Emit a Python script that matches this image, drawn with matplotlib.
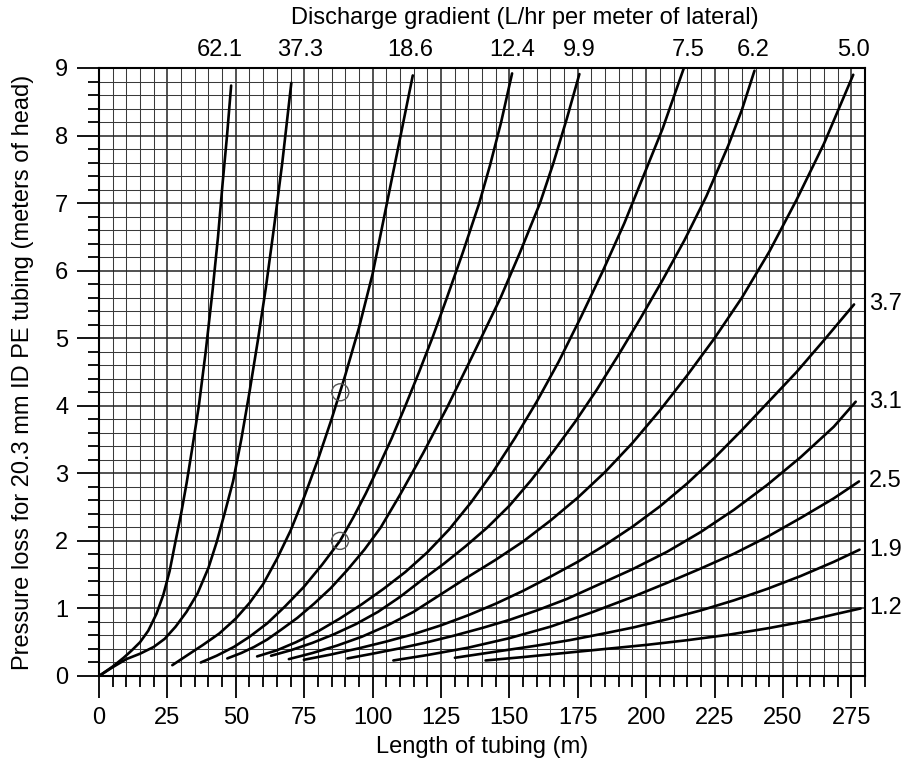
import matplotlib
matplotlib.use("Agg")
import matplotlib.pyplot as plt
import numpy as np

plt.rcParams['font.family'] = ['Liberation Sans', 'DejaVu Sans']

# Length of tubing (m) and pressure loss (m of head) for each discharge gradient
q62_1_x = [0, 5, 9, 12, 15, 18, 21, 23.5, 25.8, 28, 30, 32, 34, 36.5, 39, 41.5, 43.5, 45.2, 46.8, 48.3]
q62_1_y = [0, 0.14, 0.27, 0.38, 0.5, 0.67, 0.92, 1.2, 1.55, 2.0, 2.4, 2.85, 3.35, 4.0, 4.8, 5.7, 6.5, 7.3, 8.0, 8.74]
q37_3_x = [0, 5, 10, 15, 20, 24, 28, 32, 36, 40, 43, 46, 49, 52, 55, 58, 61, 64, 67, 70.3]
q37_3_y = [0, 0.13, 0.25, 0.33, 0.43, 0.55, 0.73, 0.95, 1.22, 1.6, 1.98, 2.42, 2.88, 3.5, 4.2, 4.95, 5.75, 6.65, 7.6, 8.78]
q18_6_x = [26.8, 32, 38, 44, 50, 55, 60, 65, 70, 75, 80, 85, 90, 95, 100, 105, 110, 114.7]
q18_6_y = [0.16, 0.3, 0.46, 0.63, 0.85, 1.08, 1.36, 1.73, 2.15, 2.65, 3.2, 3.8, 4.45, 5.15, 5.95, 6.95, 7.95, 8.89]
q12_4_x = [37.2, 43, 49.3, 55, 61.5, 68, 74.9, 81.6, 88.1, 93, 97.5, 102, 107, 112, 117, 122, 127, 133, 139, 143, 147, 151]
q12_4_y = [0.20, 0.3, 0.43, 0.58, 0.78, 1.03, 1.32, 1.65, 2.0, 2.35, 2.7, 3.08, 3.52, 4.0, 4.5, 5.02, 5.58, 6.27, 7.0, 7.57, 8.2, 8.92]
q9_9_x = [46.9, 52, 56.7, 61.5, 66.4, 72.5, 78.6, 84.7, 90.8, 97, 103, 110, 118.5, 127.3, 137, 146.8, 154, 161.2, 166, 171, 175.6]
q9_9_y = [0.26, 0.34, 0.43, 0.54, 0.68, 0.86, 1.07, 1.3, 1.57, 1.87, 2.2, 2.68, 3.3, 3.98, 4.78, 5.6, 6.28, 7.0, 7.58, 8.25, 8.91]
q7_5_x = [57.8, 65, 72, 80, 88, 96, 104, 112, 120, 128, 136, 144, 152, 160, 168, 176, 184, 192, 199, 206, 213.8]
q7_5_y = [0.29, 0.38, 0.5, 0.66, 0.85, 1.06, 1.29, 1.54, 1.83, 2.17, 2.57, 3.02, 3.52, 4.06, 4.65, 5.3, 5.98, 6.7, 7.4, 8.1, 9.0]
q6_2_x = [62.9, 70, 78, 86, 94, 102, 110, 118, 126, 134, 142, 150, 158, 166, 174, 182, 190, 198, 206, 214, 222, 230, 235, 239.6]
q6_2_y = [0.30, 0.38, 0.49, 0.62, 0.77, 0.95, 1.17, 1.42, 1.66, 1.92, 2.2, 2.52, 2.9, 3.32, 3.76, 4.24, 4.76, 5.3, 5.86, 6.45, 7.1, 7.85, 8.38, 8.96]
q5_0_x = [69.4, 78, 87, 96, 105, 115, 125, 135, 145, 155, 165, 175, 185, 195, 205, 215, 225, 235, 245, 255, 265, 275.7]
q5_0_y = [0.25, 0.34, 0.45, 0.58, 0.74, 0.95, 1.21, 1.47, 1.72, 1.99, 2.3, 2.64, 3.02, 3.45, 3.93, 4.45, 5.0, 5.6, 6.28, 7.05, 7.88, 8.9]
q3_7_x = [74.9, 85, 95, 105, 115, 125, 135, 145, 155, 165, 175, 185, 195, 205, 215, 225, 235, 245, 255, 265, 276]
q3_7_y = [0.24, 0.32, 0.41, 0.51, 0.62, 0.75, 0.9, 1.07, 1.26, 1.47, 1.69, 1.94, 2.21, 2.51, 2.85, 3.23, 3.64, 4.07, 4.5, 4.97, 5.5]
q3_1_x = [90.8, 100, 110, 120, 130, 140, 150, 160, 171, 183, 195, 207.7, 219.9, 232.1, 244.3, 256.5, 268.6, 276.6]
q3_1_y = [0.26, 0.33, 0.41, 0.5, 0.6, 0.71, 0.83, 0.97, 1.14, 1.36, 1.58, 1.84, 2.13, 2.46, 2.83, 3.24, 3.69, 4.06]
q2_5_x = [107.6, 120, 135, 150, 165, 180, 195, 207.7, 219.9, 232.1, 244.3, 256.5, 268.6, 277.8]
q2_5_y = [0.23, 0.31, 0.42, 0.56, 0.73, 0.94, 1.17, 1.38, 1.59, 1.81, 2.06, 2.34, 2.63, 2.88]
q1_9_x = [130.1, 145, 160, 172, 183.4, 195.5, 207.7, 219.9, 232.1, 244.3, 256.5, 268.6, 278]
q1_9_y = [0.27, 0.36, 0.45, 0.53, 0.62, 0.72, 0.84, 0.97, 1.12, 1.29, 1.48, 1.69, 1.87]
q1_2_x = [141.3, 155, 170, 185, 200, 215, 230, 245, 258, 268.6, 278.4]
q1_2_y = [0.23, 0.28, 0.34, 0.4, 0.46, 0.53, 0.61, 0.71, 0.81, 0.91, 1.0]

top_labels = ["62.1", "37.3", "18.6", "12.4", "9.9", "7.5", "6.2", "5.0"]
side_labels = ["3.7", "3.1", "2.5", "1.9", "1.2"]

top_curves = [(q62_1_x, q62_1_y), (q37_3_x, q37_3_y), (q18_6_x, q18_6_y),
              (q12_4_x, q12_4_y), (q9_9_x, q9_9_y), (q7_5_x, q7_5_y),
              (q6_2_x, q6_2_y), (q5_0_x, q5_0_y)]
side_curves = [(q3_7_x, q3_7_y), (q3_1_x, q3_1_y), (q2_5_x, q2_5_y),
               (q1_9_x, q1_9_y), (q1_2_x, q1_2_y)]

# horizontal nudges (points) that keep the crowded top labels apart
top_label_nudge = [-8, 6, -2, 0, 0, 3, -1, 0]

# Worked-example points marked on the 18.6 and 12.4 curves
marker_x = [88.2, 88.1]
marker_y = [4.2, 2.0]

x_ticks = list(range(0, 276, 25))
y_ticks = list(range(0, 10))

fig = plt.figure(figsize=(9.05, 7.66), dpi=100)
ax = fig.add_axes([99 / 905, 1 - 676 / 766, 766 / 905, 608 / 766])
ax.set_xlim(0, 280)
ax.set_ylim(0, 9)

# graph-paper grid
for gx in np.arange(5, 280, 5):
    major = (gx % 25 == 0)
    ax.axvline(gx, color='#222222' if major else '#3a3a3a',
               lw=1.1 if major else 0.75, zorder=1)
for gy in np.arange(0.2, 9.0, 0.2):
    major = abs(gy - round(gy)) < 1e-6
    ax.axhline(gy, color='#222222' if major else '#3a3a3a',
               lw=1.1 if major else 0.75, zorder=1)

for (xs, ys) in top_curves + side_curves:
    ax.plot(xs, ys, color='black', lw=1.9, zorder=3,
            solid_capstyle='round', solid_joinstyle='round')

ax.scatter(marker_x, marker_y, s=150, facecolors='none', edgecolors='#555555',
           linewidths=1.0, zorder=4)

for lab, nudge, (xs, ys) in zip(top_labels, top_label_nudge, top_curves):
    ax.annotate(lab, xy=(xs[-1], 9), xytext=(nudge, 5), textcoords='offset points',
                ha='center', va='bottom', fontsize=17, annotation_clip=False)
for lab, (xs, ys) in zip(side_labels, side_curves):
    ax.annotate(lab, xy=(280, ys[-1]), xytext=(3, 0), textcoords='offset points',
                ha='left', va='center', fontsize=17, annotation_clip=False)

ax.set_xticks(x_ticks)
ax.set_xticks(np.arange(0, 281, 5), minor=True)
ax.set_yticks(y_ticks)
ax.set_yticks(np.arange(0, 9.01, 0.2), minor=True)
ax.tick_params(axis='both', which='major', direction='out', length=16, width=1.3,
               labelsize=17, pad=6)
ax.tick_params(axis='both', which='minor', direction='out', length=8, width=1.3)
for s in ax.spines.values():
    s.set_linewidth(1.5)

ax.set_xlabel("Length of tubing (m)", fontsize=17, labelpad=5)
ax.set_ylabel("Pressure loss for 20.3 mm ID PE tubing (meters of head)", fontsize=17,
              labelpad=15)
fig.text(525 / 905, 1 - 18 / 766, "Discharge gradient (L/hr per meter of lateral)",
         ha='center', va='center', fontsize=17)

fig.savefig("out.png", dpi=100)
